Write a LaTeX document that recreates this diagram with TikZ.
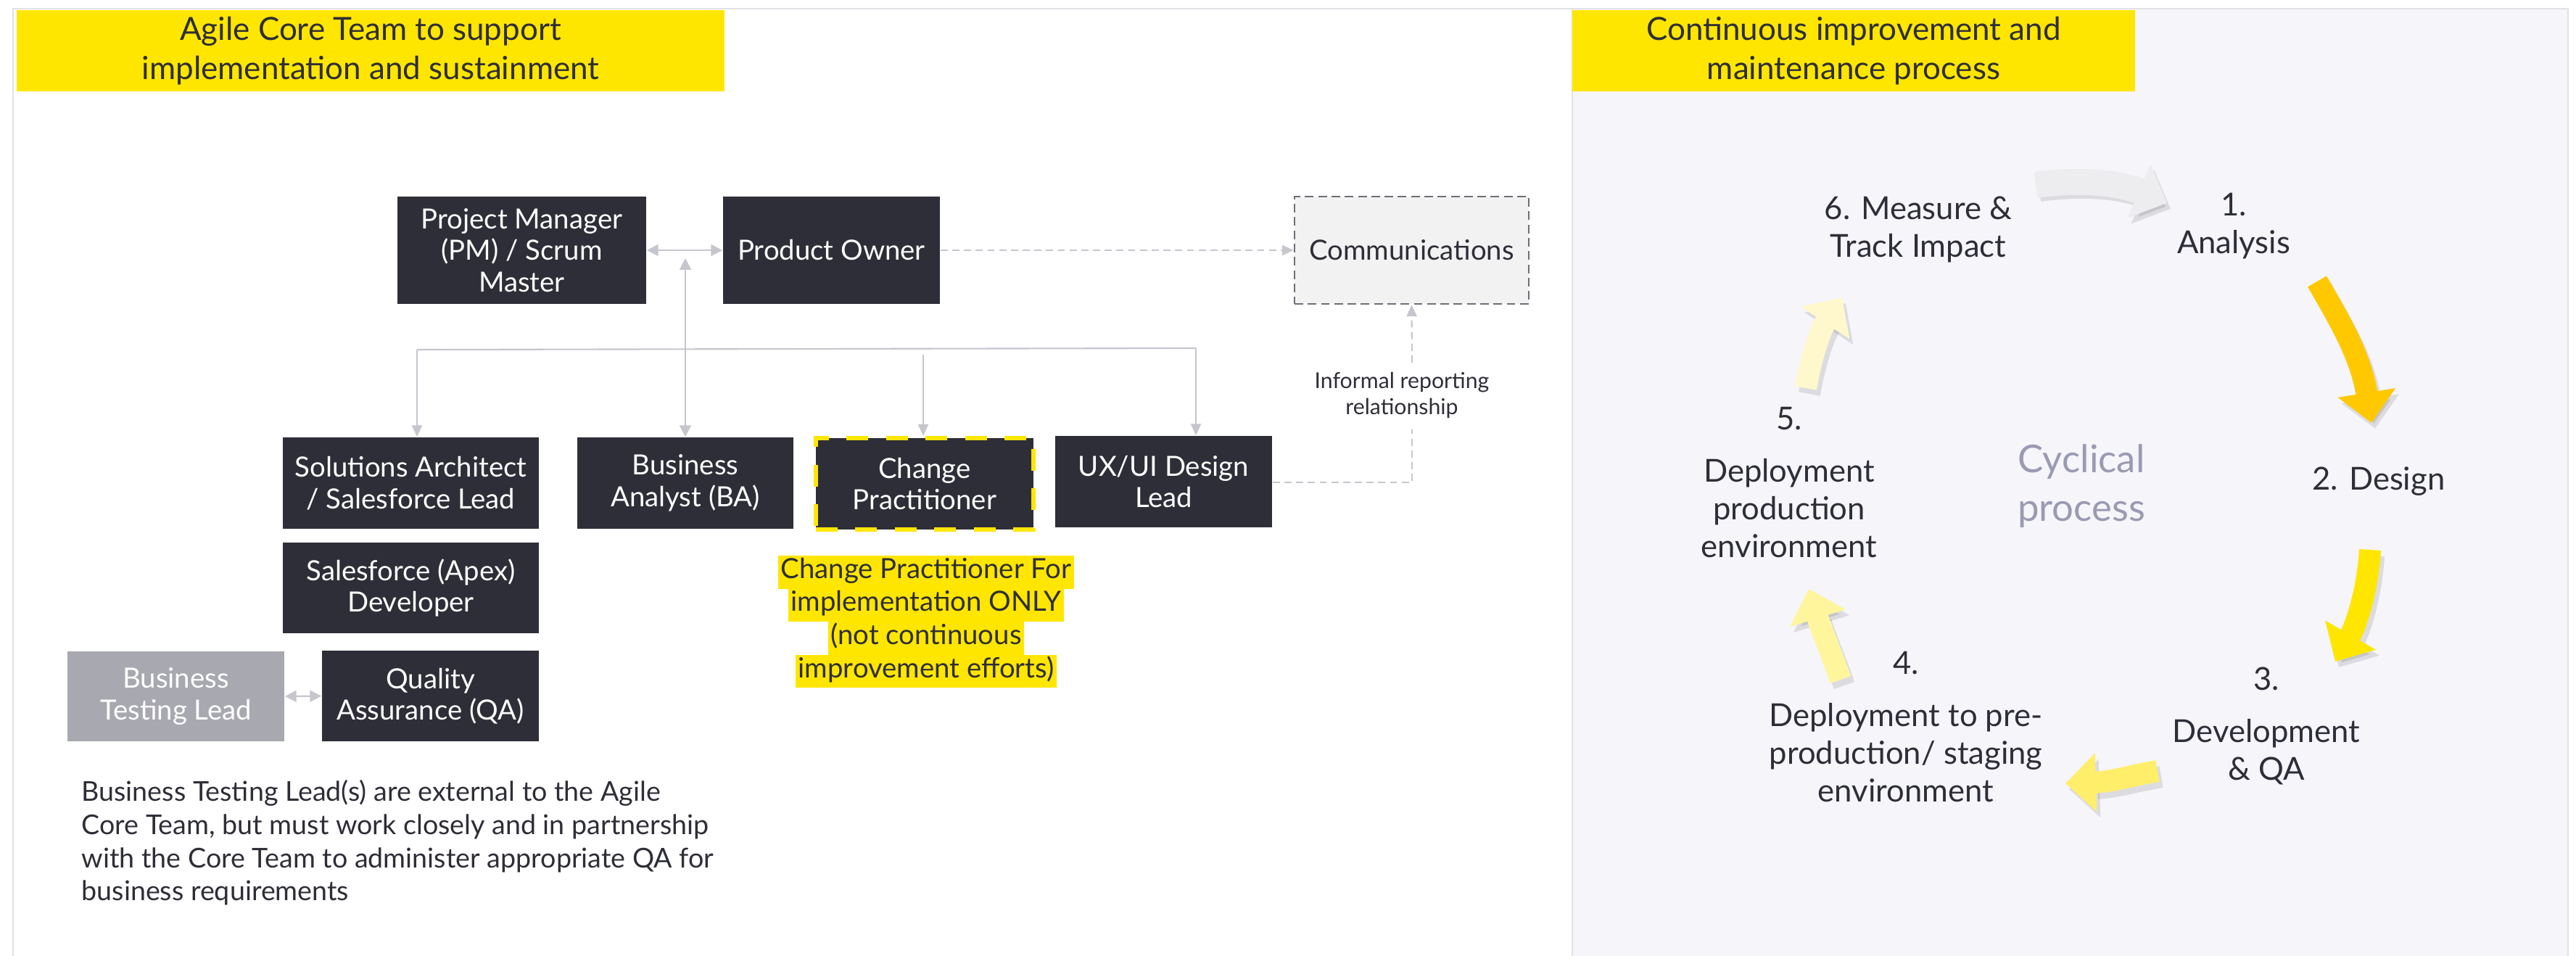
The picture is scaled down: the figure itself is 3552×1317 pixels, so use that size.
\documentclass[tikz,border=0pt]{standalone}
\usepackage{fontspec}
\setmainfont{Lato}
\usetikzlibrary{arrows.meta}
\definecolor{dark}{HTML}{2E2E38}
\definecolor{cgray}{HTML}{C6C6CE}
\definecolor{bordergray}{HTML}{6E6E78}
\definecolor{commfill}{HTML}{F2F2F2}
\definecolor{btlfill}{HTML}{A8A8B0}
\definecolor{eyyellow}{HTML}{FFE600}
\definecolor{panelbg}{HTML}{F5F5FA}
\definecolor{panelline}{HTML}{E1E1E6}
\definecolor{cyc}{HTML}{9A9AB2}
\definecolor{arrA}{HTML}{EDEDF0}
\definecolor{arrB}{HTML}{FFC800}
\definecolor{arrC}{HTML}{FFE600}
\definecolor{arrD}{HTML}{FFEE6A}
\definecolor{arrE}{HTML}{FFF59D}
\definecolor{arrF}{HTML}{FFF8CC}
\begin{document}
\begin{tikzpicture}[x=0.01cm,y=-0.01cm,
  boxtext/.style={font=\fontsize{10.9}{12.4}\selectfont},
  darkbox/.style={boxtext, fill=dark, text=white, align=center, inner sep=0pt},
  graybox/.style={boxtext, fill=btlfill, text=white, align=center, inner sep=0pt},
  commbox/.style={boxtext, fill=commfill, text=dark, draw=bordergray, line width=0.7pt, dash pattern=on 3.4pt off 1.8pt, align=center, inner sep=0pt},
  cpbox/.style={darkbox, draw=eyyellow, line width=1.8pt, dash pattern=on 8.5pt off 7pt},
  conn/.style={draw=cgray, line width=0.6pt},
  dconn/.style={draw=cgray, line width=0.6pt, dash pattern=on 2.8pt off 1.8pt},
  tipend/.style={-{Triangle[length=4.5pt,width=4pt]}},
  tipboth/.style={{Triangle[length=4.5pt,width=4.5pt]}-{Triangle[length=4.5pt,width=4.5pt]}},
  titlebox/.style={fill=eyyellow, text=dark, align=center, inner sep=0pt, font=\fontsize{12.5}{15.4}\selectfont},
  steptext/.style={text=dark, align=center, inner sep=0pt, font=\fontsize{12.4}{14.8}\selectfont},
  cyclearrow/.style={line width=0.3cm, -{Triangle[length=0.42cm,width=0.78cm]}},
  cycleshadow/.style={cyclearrow, draw=black, opacity=0.10, shift={(5,8)}},
  notebox/.style={fill=eyyellow, text=dark, inner xsep=1pt, inner ysep=0pt, minimum height=0.455cm, font=\fontsize{10.9}{12}\selectfont}
]
\path[use as bounding box] (0,0) rectangle (3552,1317);
% panels
\draw[fill=white, draw=panelline, line width=0.8pt] (18,12) rectangle (2168,1340);
\draw[fill=panelbg, draw=panelline, line width=0.8pt] (2168,12) rectangle (3541,1340);
% titles
\node[titlebox, minimum width=9.76cm, minimum height=1.12cm] (t1) at (511,70) {Agile Core Team to support\\implementation and sustainment};
\node[titlebox, minimum width=7.76cm, minimum height=1.12cm] (t2) at (2556,70) {Continuous improvement and\\maintenance process};

% org nodes
\node[darkbox, minimum width=3.43cm, minimum height=1.48cm] (pm) at (719.5,345) {Project Manager\\(PM) / Scrum\\Master};
\node[darkbox, minimum width=2.99cm, minimum height=1.48cm] (po) at (1146.5,345) {Product Owner};
\node[commbox, minimum width=3.23cm, minimum height=1.48cm] (comms) at (1946.5,345) {Communications};
\node[darkbox, minimum width=3.53cm, minimum height=1.26cm] (sa) at (566.5,666) {Solutions Architect\\/ Salesforce Lead};
\node[darkbox, minimum width=2.98cm, minimum height=1.26cm] (ba) at (945,666) {Business\\Analyst (BA)};
\node[cpbox, minimum width=3.0cm, minimum height=1.26cm] (cp) at (1275,667) {Change\\Practitioner};
\node[darkbox, minimum width=2.99cm, minimum height=1.26cm] (ux) at (1604.5,664) {UX/UI Design\\Lead};
\node[darkbox, minimum width=3.53cm, minimum height=1.25cm] (sf) at (566.5,810.5) {Salesforce (Apex)\\Developer};
\node[graybox, minimum width=2.99cm, minimum height=1.24cm] (btl) at (242.5,960) {Business\\Testing Lead};
\node[darkbox, minimum width=2.99cm, minimum height=1.25cm] (qa) at (593.5,959.5) {Quality\\Assurance (QA)};

% change practitioner note
\node[notebox] (cpn1) at (1277,789) {\strut Change Practitioner For};
\node[notebox] (cpn2) at (1277,834.5) {\strut implementation ONLY};
\node[notebox] (cpn3) at (1277,880) {\strut (not continuous};
\node[notebox] (cpn4) at (1277,925.5) {\strut improvement efforts)};

% connectors
\draw[conn, tipboth] (pm.east) -- (po.west);
\coordinate (j1) at (945,356);
\draw[conn, tipboth] (j1) -- (ba.north);
\coordinate (hl) at (575,482);
\coordinate (hr) at (1649,480);
\coordinate (hc) at (1273,489);
\draw[conn] (hl) -- (hr);
\draw[conn, tipend] (hl) -- (hl |- sa.north);
\draw[conn, tipend] (hc) -- (hc |- cp.north);
\draw[conn, tipend] (hr) -- (hr |- ux.north);
\draw[dconn, tipend] (po.east) -- (comms.west);
\coordinate (ir) at (1947,665);
\coordinate (ib) at (1947,592);
\coordinate (iu) at (1947,500);
\draw[dconn] (ux.east |- ir) -- (ir) -- (ib);
\draw[dconn, tipend] (iu) -- (comms.south);
\node[text=dark, align=center, inner sep=0pt, font=\fontsize{8.6}{10.2}\selectfont] (inf) at (1933,545) {Informal reporting\\relationship};
\draw[conn, tipboth] (btl.east) -- (qa.west);

% paragraph
\node[anchor=west, align=left, text=dark, inner sep=0pt, font=\fontsize{10.7}{13}\selectfont] (para) at (112,1162) {Business Testing Lead(s) are external to the Agile\\Core Team, but must work closely and in partnership\\with the Core Team to administer appropriate QA for\\business requirements};

% cycle arrows (shadows)
\draw[cycleshadow] (2807,255) .. controls (2880,245) and (2930,255) .. (2988,280);
\draw[cycleshadow] (3195,388) .. controls (3225,440) and (3255,490) .. (3270,583);
\draw[cycleshadow] (3268,758) .. controls (3265,810) and (3250,860) .. (3220,912);
\draw[cycleshadow] (2975,1063) .. controls (2945,1068) and (2910,1078) .. (2848,1080);
\draw[cycleshadow] (2538,937) .. controls (2525,900) and (2512,870) .. (2494,812);
\draw[cycleshadow] (2490,535) .. controls (2498,490) and (2510,455) .. (2540,410);
% cycle arrows
\draw[cyclearrow, draw=arrA, fill=arrA, line width=0.36cm] (2807,255) .. controls (2880,245) and (2930,255) .. (2988,280);
\draw[cyclearrow, draw=arrB, fill=arrB] (3195,388) .. controls (3225,440) and (3255,490) .. (3270,583);
\draw[cyclearrow, draw=arrC, fill=arrC] (3268,758) .. controls (3265,810) and (3250,860) .. (3220,912);
\draw[cyclearrow, draw=arrD, fill=arrD] (2975,1063) .. controls (2945,1068) and (2910,1078) .. (2848,1080);
\draw[cyclearrow, draw=arrE, fill=arrE] (2538,937) .. controls (2525,900) and (2512,870) .. (2494,812);
\draw[cyclearrow, draw=arrF, fill=arrF] (2490,535) .. controls (2498,490) and (2510,455) .. (2540,410);

% step labels
\node[steptext] (s6) at (2645,316) {6. Measure \&\\Track Impact};
\node[steptext] (s1) at (3080,312) {1.\\Analysis};
\node[steptext] (s2) at (3280,664) {2. Design};
\node[steptext] (s3) at (3125,1001) {3.\\[5.7pt]Development\\\& QA};
\node[steptext] (s4) at (2628,1002) {4.\\[5.7pt]Deployment to pre-\\production/ staging\\environment};
\node[steptext] (s5) at (2467,665) {5.\\[5.7pt]Deployment\\production\\environment};
\node[text=cyc, align=center, inner sep=0pt, font=\fontsize{15}{19}\selectfont] (cyc) at (2870,670) {Cyclical\\process};
\end{tikzpicture}
\end{document}
